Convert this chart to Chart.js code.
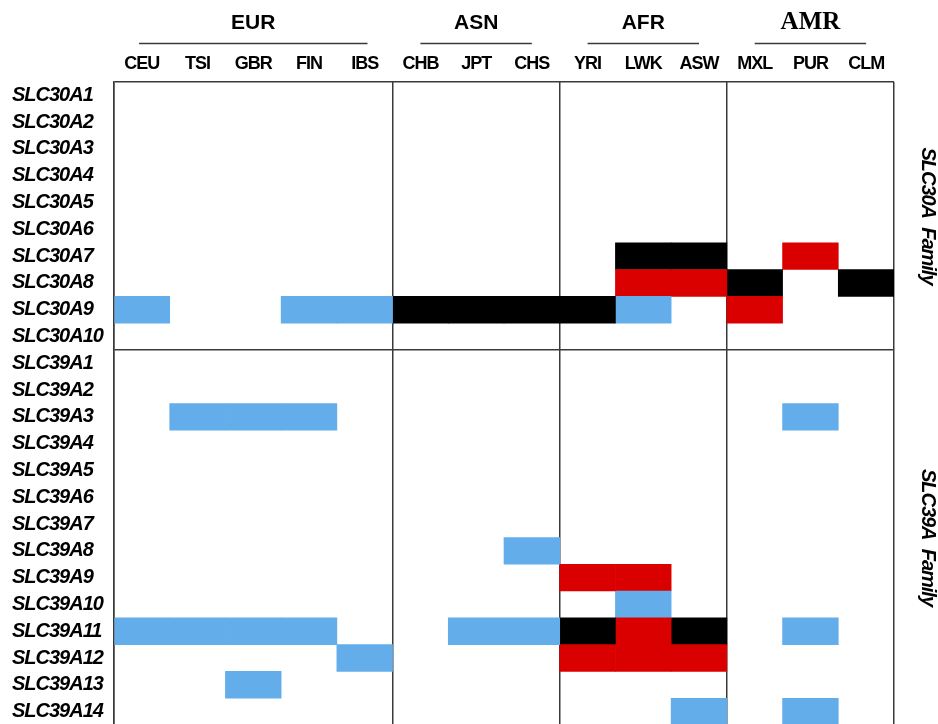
<!DOCTYPE html>
<html>
<head>
<meta charset="utf-8">
<title>SLC30A / SLC39A heatmap</title>
<script src="https://cdn.jsdelivr.net/npm/chart.js"></script>
<style>
  html, body { margin: 0; padding: 0; background: #fff; overflow: hidden; }
  #heat { display: block; }
</style>
</head>
<body>
<canvas id="heat" width="938" height="740"></canvas>
<script>
// populations (columns) and the super-population groups they belong to
const populations = ['CEU', 'TSI', 'GBR', 'FIN', 'IBS', 'CHB', 'JPT', 'CHS', 'YRI', 'LWK', 'ASW', 'MXL', 'PUR', 'CLM'];
const groups = ['EUR', 'ASN', 'AFR', 'AMR'];
const groupSizes = [5, 3, 3, 3];

// genes (rows) and the two families
const genes = [
  'SLC30A1', 'SLC30A2', 'SLC30A3', 'SLC30A4', 'SLC30A5', 'SLC30A6', 'SLC30A7', 'SLC30A8', 'SLC30A9', 'SLC30A10',
  'SLC39A1', 'SLC39A2', 'SLC39A3', 'SLC39A4', 'SLC39A5', 'SLC39A6', 'SLC39A7', 'SLC39A8', 'SLC39A9', 'SLC39A10',
  'SLC39A11', 'SLC39A12', 'SLC39A13', 'SLC39A14'
];
const families = ['SLC30A  Family', 'SLC39A  Family'];
const familySizes = [10, 14];

// cell level per gene, one entry per population
// 0 = none, 1 = blue, 2 = red, 3 = black
const levels = [
  [0,0,0,0,0, 0,0,0, 0,0,0, 0,0,0], // SLC30A1
  [0,0,0,0,0, 0,0,0, 0,0,0, 0,0,0], // SLC30A2
  [0,0,0,0,0, 0,0,0, 0,0,0, 0,0,0], // SLC30A3
  [0,0,0,0,0, 0,0,0, 0,0,0, 0,0,0], // SLC30A4
  [0,0,0,0,0, 0,0,0, 0,0,0, 0,0,0], // SLC30A5
  [0,0,0,0,0, 0,0,0, 0,0,0, 0,0,0], // SLC30A6
  [0,0,0,0,0, 0,0,0, 0,3,3, 0,2,0], // SLC30A7
  [0,0,0,0,0, 0,0,0, 0,2,2, 3,0,3], // SLC30A8
  [1,0,0,1,1, 3,3,3, 3,1,0, 2,0,0], // SLC30A9
  [0,0,0,0,0, 0,0,0, 0,0,0, 0,0,0], // SLC30A10
  [0,0,0,0,0, 0,0,0, 0,0,0, 0,0,0], // SLC39A1
  [0,0,0,0,0, 0,0,0, 0,0,0, 0,0,0], // SLC39A2
  [0,1,1,1,0, 0,0,0, 0,0,0, 0,1,0], // SLC39A3
  [0,0,0,0,0, 0,0,0, 0,0,0, 0,0,0], // SLC39A4
  [0,0,0,0,0, 0,0,0, 0,0,0, 0,0,0], // SLC39A5
  [0,0,0,0,0, 0,0,0, 0,0,0, 0,0,0], // SLC39A6
  [0,0,0,0,0, 0,0,0, 0,0,0, 0,0,0], // SLC39A7
  [0,0,0,0,0, 0,0,1, 0,0,0, 0,0,0], // SLC39A8
  [0,0,0,0,0, 0,0,0, 2,2,0, 0,0,0], // SLC39A9
  [0,0,0,0,0, 0,0,0, 0,1,0, 0,0,0], // SLC39A10
  [1,1,1,1,0, 0,1,1, 3,2,3, 0,1,0], // SLC39A11
  [0,0,0,0,1, 0,0,0, 2,2,2, 0,0,0], // SLC39A12
  [0,0,1,0,0, 0,0,0, 0,0,0, 0,0,0], // SLC39A13
  [0,0,0,0,0, 0,0,0, 0,0,1, 0,1,0]  // SLC39A14
];

const levelColors = ['rgba(0,0,0,0)', '#63AEEA', '#DA0000', '#000000'];
const LINE = '#3a3a3a';
const NARROW = "'Liberation Sans Narrow', 'Liberation Sans', sans-serif";

// boundaries of groups in column units: 0, 5, 8, 11, 14
const groupEdges = groupSizes.reduce((acc, n) => { acc.push(acc[acc.length - 1] + n); return acc; }, [0]);
// boundaries of families in row units
const familyEdges = familySizes.reduce((acc, n) => { acc.push(acc[acc.length - 1] + n); return acc; }, [0]);

// every population is one stacked dataset, each cell is one unit wide
const datasets = populations.map((pop, c) => ({
  label: pop,
  data: genes.map(() => 1),
  backgroundColor: genes.map((g, r) => levelColors[levels[r][c]]),
  borderWidth: 0,
  barPercentage: 1,
  categoryPercentage: 1,
  stack: 'cells'
}));

// tighter letters, the source used a condensed font
const tightText = {
  id: 'tightText',
  beforeDraw(chart) { chart.ctx.letterSpacing = '-1px'; }
};

// group headers above the columns + family labels on the right
const decorations = {
  id: 'decorations',
  afterDraw(chart) {
    const { ctx, chartArea, scales } = chart;
    const x = scales.x, y = scales.y;
    const colW = x.getPixelForValue(1) - x.getPixelForValue(0);
    const rowH = y.getPixelForValue(1) - y.getPixelForValue(0);
    ctx.save();
    ctx.fillStyle = '#000';
    ctx.strokeStyle = LINE;
    ctx.lineWidth = 1.5;
    groups.forEach((g, i) => {
      const x0 = x.getPixelForValue(groupEdges[i]);
      const x1 = x.getPixelForValue(groupEdges[i + 1]);
      const cx = (x0 + x1) / 2;
      ctx.textAlign = 'center';
      ctx.textBaseline = 'middle';
      ctx.letterSpacing = '0px';
      ctx.font = g === 'AMR' ? "bold 25px 'Liberation Serif', serif" : "bold 21px 'Liberation Sans', sans-serif";
      ctx.fillText(g, cx, 23);
      const inset = g === 'EUR' ? colW * 0.45 : colW * 0.5;
      ctx.beginPath();
      ctx.moveTo(x0 + inset, 43.5);
      ctx.lineTo(x1 - inset, 43.5);
      ctx.stroke();
    });
    // rotated family names
    ctx.letterSpacing = '-1px';
    ctx.font = 'italic bold 20px ' + NARROW;
    families.forEach((f, i) => {
      const y0 = y.getPixelForValue(familyEdges[i]) - rowH / 2;
      const y1 = y.getPixelForValue(familyEdges[i + 1]) - rowH / 2;
      ctx.save();
      ctx.translate(chartArea.right + 34, (y0 + y1) / 2);
      ctx.rotate(Math.PI / 2);
      ctx.textAlign = 'center';
      ctx.textBaseline = 'middle';
      ctx.fillText(f, 0, 0);
      ctx.restore();
    });
    ctx.restore();
  }
};

new Chart(document.getElementById('heat'), {
  type: 'bar',
  data: { labels: genes, datasets },
  options: {
    indexAxis: 'y',
    responsive: false,
    animation: false,
    events: [],
    layout: { padding: { left: 12, right: 44, top: 0, bottom: 12 } },
    plugins: {
      legend: { display: false },
      tooltip: { enabled: false }
    },
    scales: {
      x: {
        type: 'linear',
        stacked: true,
        min: 0,
        max: populations.length,
        position: 'bottom',
        afterFit(scale) { scale.height = 0; },
        ticks: { display: false, stepSize: 1 },
        border: { display: false },
        grid: {
          drawTicks: false,
          lineWidth: 1.5,
          color: (ctx) => (ctx.tick && groupEdges.includes(ctx.tick.value)) ? LINE : 'rgba(0,0,0,0)'
        }
      },
      pops: {
        type: 'category',
        labels: populations,
        position: 'top',
        offset: true,
        afterFit(scale) { scale.height = 82; },
        ticks: {
          color: '#000',
          padding: -1,
          font: { family: NARROW, size: 18, weight: 'bold' }
        },
        border: { display: false },
        grid: { display: false }
      },
      y: {
        type: 'category',
        stacked: true,
        offset: true,
        afterFit(scale) { scale.width = 102; },
        ticks: {
          color: '#000',
          crossAlign: 'far',
          autoSkip: false,
          font: { family: NARROW, size: 20, weight: 'bold', style: 'italic' }
        },
        border: { display: true, color: LINE, width: 1.5 },
        grid: {
          drawTicks: false,
          lineWidth: 1.5,
          color: (ctx) => (ctx.index !== undefined && familyEdges.includes(ctx.index) && ctx.index < genes.length) ? LINE : 'rgba(0,0,0,0)'
        }
      }
    }
  },
  plugins: [tightText, decorations]
});
</script>
</body>
</html>
